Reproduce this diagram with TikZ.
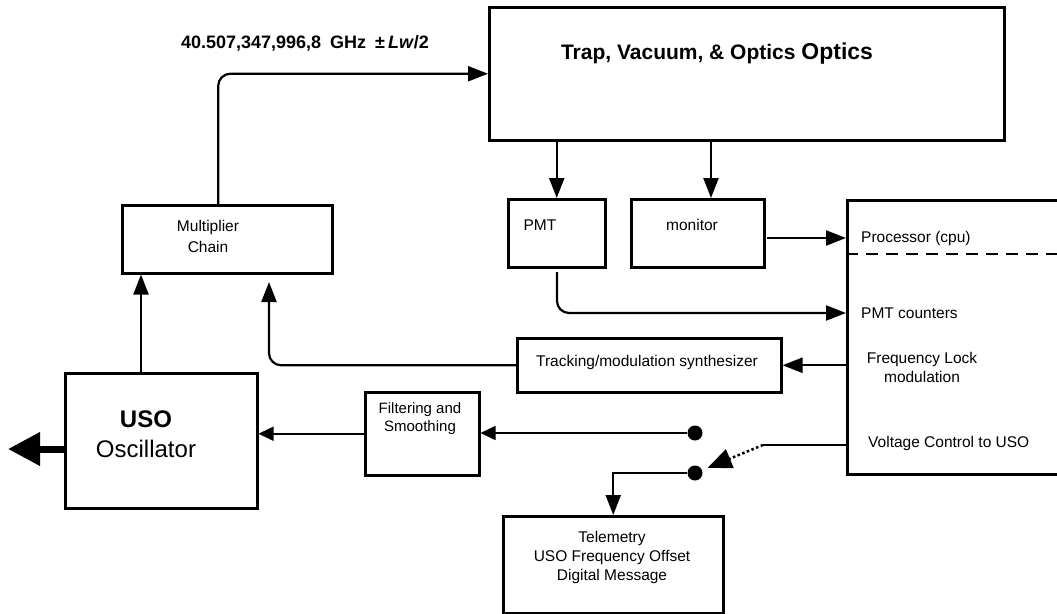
\documentclass[tikz,border=0pt]{standalone}
\usepackage{fontspec}
\setmainfont{Liberation Sans}
\usetikzlibrary{arrows.meta}

\begin{document}
\begin{tikzpicture}[x=1pt, y=-1pt,
	blk/.style={draw, line width=2.5pt, inner sep=0pt, anchor=north west},
	arr/.style={line width=2.2pt, -{Triangle[length=20pt,width=15pt]}},
	thinarr/.style={line width=1.6pt, -{Triangle[length=15pt,width=14pt]}},
	txt/.style={font=\fontsize{15.5}{19}\selectfont, align=center, inner sep=0pt},
	dot/.style={circle, fill, inner sep=0pt, minimum size=15pt}]
	\useasboundingbox (0,0) rectangle (1057,613);
	\node[blk, minimum width=515pt, minimum height=133pt] (trap) at (488,6) {};
	\node[txt, font=\bfseries\fontsize{21}{25}\selectfont] (traplbl) at (717,54) {Trap, Vacuum, \& Optics {\fontsize{23}{25}\selectfont Optics}};
	\node[font=\bfseries\fontsize{18}{22}\selectfont, inner sep=0pt] (freq) at (305,43) {40.507,347,996,8\enspace GHz\enspace ±\,\textit{Lw}/2};
	\node[blk, minimum width=210pt, minimum height=68pt] (mult) at (121,204) {};
	\node[txt, font=\fontsize{15.5}{21}\selectfont] (multlbl) at (208,236) {Multiplier\\Chain};
	\node[blk, minimum width=97pt, minimum height=68pt] (pmt) at (507,198) {};
	\node[txt] (pmtlbl) at (540,225) {PMT};
	\node[blk, minimum width=133pt, minimum height=68pt] (mon) at (630,198) {};
	\node[txt] (monlbl) at (692,225) {monitor};
	\node[blk, minimum width=230pt, minimum height=274pt] (proc) at (846,199) {};
	\node[txt, anchor=west] (cpu) at (861,238) {Processor (cpu)};
	\node[txt, anchor=west] (cnt) at (861,313) {PMT counters};
	\node[txt] (lock) at (922,367) {Frequency Lock\\modulation};
	\node[txt, anchor=west] (volt) at (868,443) {Voltage Control to USO};
	\node[blk, minimum width=264pt, minimum height=54pt] (track) at (516,337) {};
	\node[txt] (tracklbl) at (647,362) {Tracking/modulation synthesizer};
	\node[blk, minimum width=114pt, minimum height=83pt] (filt) at (364,391) {};
	\node[txt, font=\fontsize{15}{18}\selectfont] (filtlbl) at (420,419) {Filtering and\\Smoothing};
	\node[blk, minimum width=192pt, minimum height=135pt] (uso) at (64,372) {};
	\node[txt, font=\fontsize{24}{30}\selectfont] (usolbl) at (146,434) {\textbf{USO}\\Oscillator};
	\node[blk, minimum width=220pt, minimum height=97pt] (telem) at (502,515) {};
	\node[txt] (telemlbl) at (612,557) {Telemetry\\USO Frequency Offset\\Digital Message};
	\node[dot] (sw1) at (695,433) {};
	\node[dot] (sw2) at (695,473) {};
	\coordinate (montop) at (711,198);
	\coordinate (monout) at (767,238);
	\coordinate (dash) at (846,254);
	\coordinate (pmtout) at (557,272);
	\coordinate (cntin) at (846,313);
	\coordinate (multin) at (269,282);
	\coordinate (usoup) at (141,372);
	\coordinate (vc) at (763,445);
	\coordinate (out) at (8,449);
	\draw[arr, rounded corners=12pt] ([xshift=-9pt]mult.north) |- (trap.west);
	\draw[arr] (trap.south -| pmt.north) -- (pmt.north);
	\draw[arr] (trap.south -| montop) -- (montop);
	\draw[arr] (monout) -- (monout -| proc.west);
	\draw[line width=1.8pt, dash pattern=on 12pt off 8pt] (dash) -- ++(220,0);
	\draw[arr, rounded corners=12pt] (pmtout) |- (cntin);
	\draw[arr] (proc.west |- track.east) -- (track.east);
	\draw[arr, rounded corners=12pt] (track.west) -| (multin);
	\draw[arr] (usoup) -- (usoup |- mult.south);
	\draw[thinarr] (filt.west) -- (filt.west -| uso.east);
	\draw[thinarr] (sw1) -- (sw1 -| filt.east);
	\draw[arr] (sw2) -| (telem.north);
	\draw[line width=2.2pt] (proc.west |- vc) -- (vc);
	\draw[line width=2.5pt, dash pattern=on 2.5pt off 2.5pt, -{Triangle[length=24pt,width=20pt]}, shorten >=6pt] (vc) -- (sw2);
	\draw[line width=7pt, -{Triangle[length=32pt,width=32pt]}] (uso.west |- out) -- (out);
\end{tikzpicture}
\end{document}
